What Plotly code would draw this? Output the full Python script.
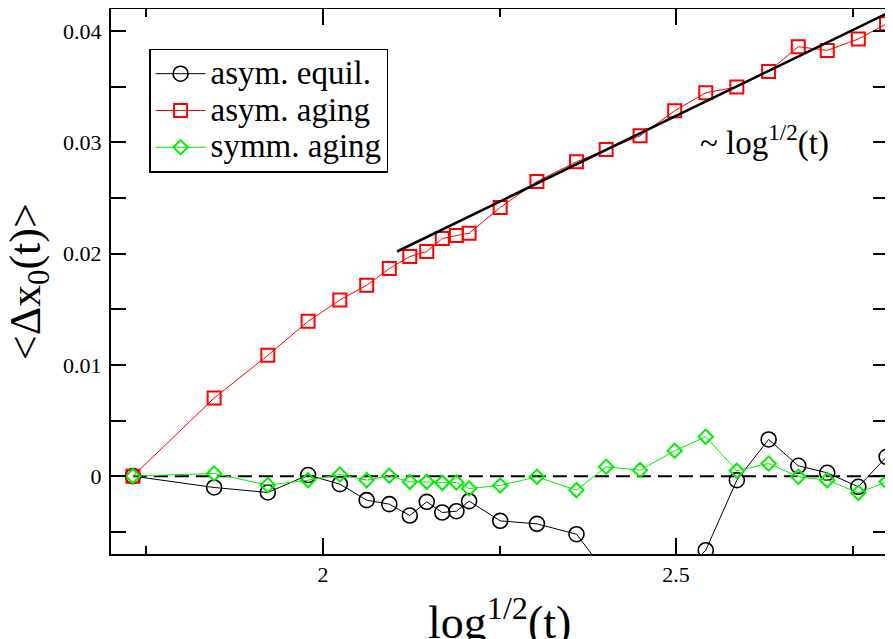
import plotly.graph_objects as go

# shared abscissa: log^{1/2}(t)
x_vals = [1.731, 1.846, 1.922, 1.979, 2.024, 2.062, 2.094, 2.123, 2.147, 2.169,
          2.189, 2.207, 2.251, 2.303, 2.359, 2.401, 2.449, 2.498, 2.542, 2.586,
          2.631, 2.673, 2.714, 2.758, 2.798]

asym_equil = [0.0, -0.00102, -0.00147, 0.0001, -0.00072, -0.00216, -0.00252, -0.00354,
              -0.00231, -0.00327, -0.00315, -0.00225, -0.00402, -0.00429, -0.00522,
              -0.0087, -0.0105, -0.0095, -0.00666, -0.00036, 0.0033, 0.00093, 0.0003,
              -0.00096, 0.00174]

asym_aging = [0.0, 0.00702, 0.01086, 0.01392, 0.01584, 0.01716, 0.01866, 0.01974,
              0.02019, 0.02136, 0.02163, 0.02184, 0.02415, 0.02649, 0.02826, 0.02937,
              0.0306, 0.03285, 0.03447, 0.03499, 0.03639, 0.03861, 0.03828, 0.0393,
              0.04068]

symm_aging = [0.0, 0.00024, -0.00081, -0.00036, 0.00015, -0.00036, 0.00003, -0.00051,
              -0.00051, -0.0006, -0.00057, -0.00111, -0.00084, -0.00006, -0.00126,
              0.00084, 0.00054, 0.00228, 0.00354, 0.00048, 0.00114, -0.00006, -0.00036,
              -0.0015, -0.00051]

fit_x = [2.105, 2.8]
fit_y = [0.0202, 0.04165]

zero_x = [1.731, 2.8]
zero_y = [0.0, 0.0]

series_names = ["asym. equil.", "asym. aging", "symm. aging"]
fit_label = "~ log<sup>1/2</sup>(t)"
x_title = "log<sup>1/2</sup>(t)"
y_title = "&lt;Δx<sub>0</sub>(t)&gt;"

FONT = "Liberation Serif"


def legend_name(s):
    return '<span style="font-size:33px">' + s + '</span>'


fig = go.Figure()

fig.add_trace(go.Scatter(x=zero_x, y=zero_y, mode="lines", showlegend=False,
                         line=dict(color="black", width=2, dash="14px,7px")))

fig.add_trace(go.Scatter(x=x_vals, y=asym_equil, mode="lines+markers",
                         name=legend_name(series_names[0]),
                         line=dict(color="black", width=1),
                         marker=dict(symbol="circle-open", size=15, color="black",
                                     line=dict(width=1.6, color="black"))))
fig.add_trace(go.Scatter(x=x_vals, y=asym_aging, mode="lines+markers",
                         name=legend_name(series_names[1]),
                         line=dict(color="#ff0000", width=1),
                         marker=dict(symbol="square-open", size=13, color="#ff0000",
                                     line=dict(width=2, color="#ff0000"))))
fig.add_trace(go.Scatter(x=x_vals, y=symm_aging, mode="lines+markers",
                         name=legend_name(series_names[2]),
                         line=dict(color="#00ee00", width=1),
                         marker=dict(symbol="diamond-open", size=11, color="#00ee00",
                                     line=dict(width=2, color="#00ee00"))))

fig.add_trace(go.Scatter(x=fit_x, y=fit_y, mode="lines", showlegend=False,
                         line=dict(color="black", width=2.6)))

fig.add_annotation(x=2.625, y=0.0302, xref="x", yref="y", text=fit_label,
                   showarrow=False, font=dict(family=FONT, size=33, color="black"),
                   xanchor="center", yanchor="middle")

fig.add_annotation(x=0.5, y=-0.12, xref="paper", yref="paper", text=x_title,
                   showarrow=False, font=dict(family=FONT, size=46, color="black"),
                   xanchor="center", yanchor="middle")

fig.add_annotation(x=-0.106, y=0.5, xref="paper", yref="paper", text=y_title,
                   showarrow=False, textangle=-90,
                   font=dict(family=FONT, size=44, color="black"),
                   xanchor="center", yanchor="middle")

# page body has an 8px margin: figure is sized/offset so the plot area lands on
# x 111..888, y 9..554 of the 893x639 window
fig.update_layout(
    width=885, height=631,
    margin=dict(l=103, r=5, t=1, b=85, autoexpand=False),
    paper_bgcolor="white", plot_bgcolor="white",
    font=dict(family=FONT, color="black"),
    showlegend=True,
    legend=dict(x=0.049, y=0.927, xanchor="left", yanchor="top",
                bgcolor="white", bordercolor="black", borderwidth=1.5,
                font=dict(family=FONT, size=26, color="black"),
                itemwidth=50, tracegroupgap=0),
)

fig.update_xaxes(range=[1.7, 2.8], showgrid=False, zeroline=False, automargin=False,
                 showline=True, linecolor="black", linewidth=2, mirror="allticks",
                 ticks="inside", ticklen=16, tickwidth=1.5, tickcolor="black",
                 dtick=0.5, tick0=2.0,
                 minor=dict(ticks="inside", ticklen=8, tickwidth=1.5, tickcolor="black",
                            dtick=0.25, tick0=2.0, showgrid=False),
                 tickfont=dict(family=FONT, size=22, color="black"),
                 ticklabelstandoff=0)

fig.update_yaxes(range=[-0.007, 0.042], showgrid=False, zeroline=False, automargin=False,
                 showline=True, linecolor="black", linewidth=2, mirror="allticks",
                 ticks="inside", ticklen=15, tickwidth=1.5, tickcolor="black",
                 dtick=0.01, tick0=0.0,
                 minor=dict(ticks="inside", ticklen=15, tickwidth=1.5, tickcolor="black",
                            dtick=0.005, tick0=0.0, showgrid=False),
                 tickfont=dict(family=FONT, size=22, color="black"),
                 ticklabelstandoff=3)

fig.write_html("out.html")
